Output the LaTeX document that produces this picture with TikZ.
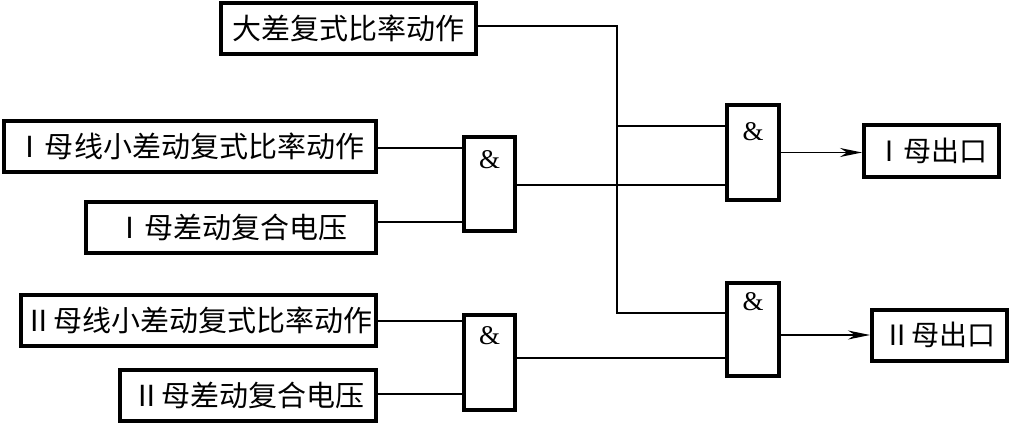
\documentclass[tikz,border=0pt]{standalone}
\usepackage{fontspec}
\setmainfont{Liberation Serif}
\newfontfamily\cjk{Noto Sans CJK SC}
\usetikzlibrary{arrows.meta}
\tikzset{
  box/.style={draw, line width=4pt, inner sep=0pt, minimum height=51pt, font=\cjk\fontsize{29}{30}\selectfont},
  longbox/.style={box, font=\cjk\fontsize{29}{30}\selectfont},
  andgate/.style={draw, line width=3.5pt, inner sep=0pt, minimum width=51pt},
  amp/.style={inner sep=0pt, font=\fontsize{27}{28}\selectfont},
  wire/.style={line width=1.4pt},
  arr/.style={wire, -{Stealth[length=22pt, width=9pt, inset=7pt]}}
}
\begin{document}
\begin{tikzpicture}[x=1pt,y=-1pt]
\useasboundingbox (0,0) rectangle (1011,425);
% input boxes
\node[box, minimum width=255pt] (big) at (348.5,28.5) {大差复式比率动作};
\node[longbox, minimum width=372pt] (i1) at (190,146.5) {Ⅰ母线小差动复式比率动作};
\node[box, minimum width=290pt] (i1c) at (231,227.5) {Ⅰ母差动复合电压};
\node[longbox, minimum width=355pt] (i2) at (198.5,320) {Ⅱ母线小差动复式比率动作};
\node[box, minimum width=256pt] (i2c) at (248,395) {Ⅱ母差动复合电压};
% gates
\node[andgate, minimum height=94pt] (and1) at (489.5,184) {};
\node[andgate, minimum height=95pt, minimum width=52pt] (and2) at (753,152.5) {};
\node[andgate, minimum height=95pt] (and3) at (489.5,362.5) {};
\node[andgate, minimum height=93pt, minimum width=52pt] (and4) at (753,329.5) {};
\node[amp] (a1) at ([yshift=-24pt]and1.north) {\&};
\node[amp] (a2) at ([yshift=-28pt]and2.north) {\&};
\node[amp] (a3) at ([yshift=-22pt]and3.north) {\&};
\node[amp] (a4) at ([yshift=-20pt]and4.north) {\&};
% outputs
\node[box, minimum width=135pt, font=\cjk\fontsize{28}{29}\selectfont] (o1) at (931.5,151) {Ⅰ母出口};
\node[box, minimum width=135pt, font=\cjk\fontsize{28}{29}\selectfont] (o2) at (939.5,335) {Ⅱ母出口};
% wiring
\coordinate (turn) at (617,313);
\coordinate (br) at (617,126);
\draw[wire] (big.east |- 0,26) -| (turn) -- (turn -| and4.west);
\draw[wire] (br) -- (br -| and2.west);
\draw[wire] (i1.east |- 0,148) -- (and1.west |- 0,148);
\draw[wire] (i1c.east |- 0,222) -- (and1.west |- 0,222);
\draw[wire] (and1.east |- 0,185) -- (and2.west |- 0,185);
\draw[arr] (and2.east) -- (and2.east -| o1.west);
\draw[wire] (i2.east |- 0,321) -- (and3.west |- 0,321);
\draw[wire] (i2c.east |- 0,394) -- (and3.west |- 0,394);
\draw[wire] (and3.east |- 0,358) -- (and4.west |- 0,358);
\draw[arr] (and4.east |- o2.west) -- (o2.west);
\end{tikzpicture}
\end{document}
